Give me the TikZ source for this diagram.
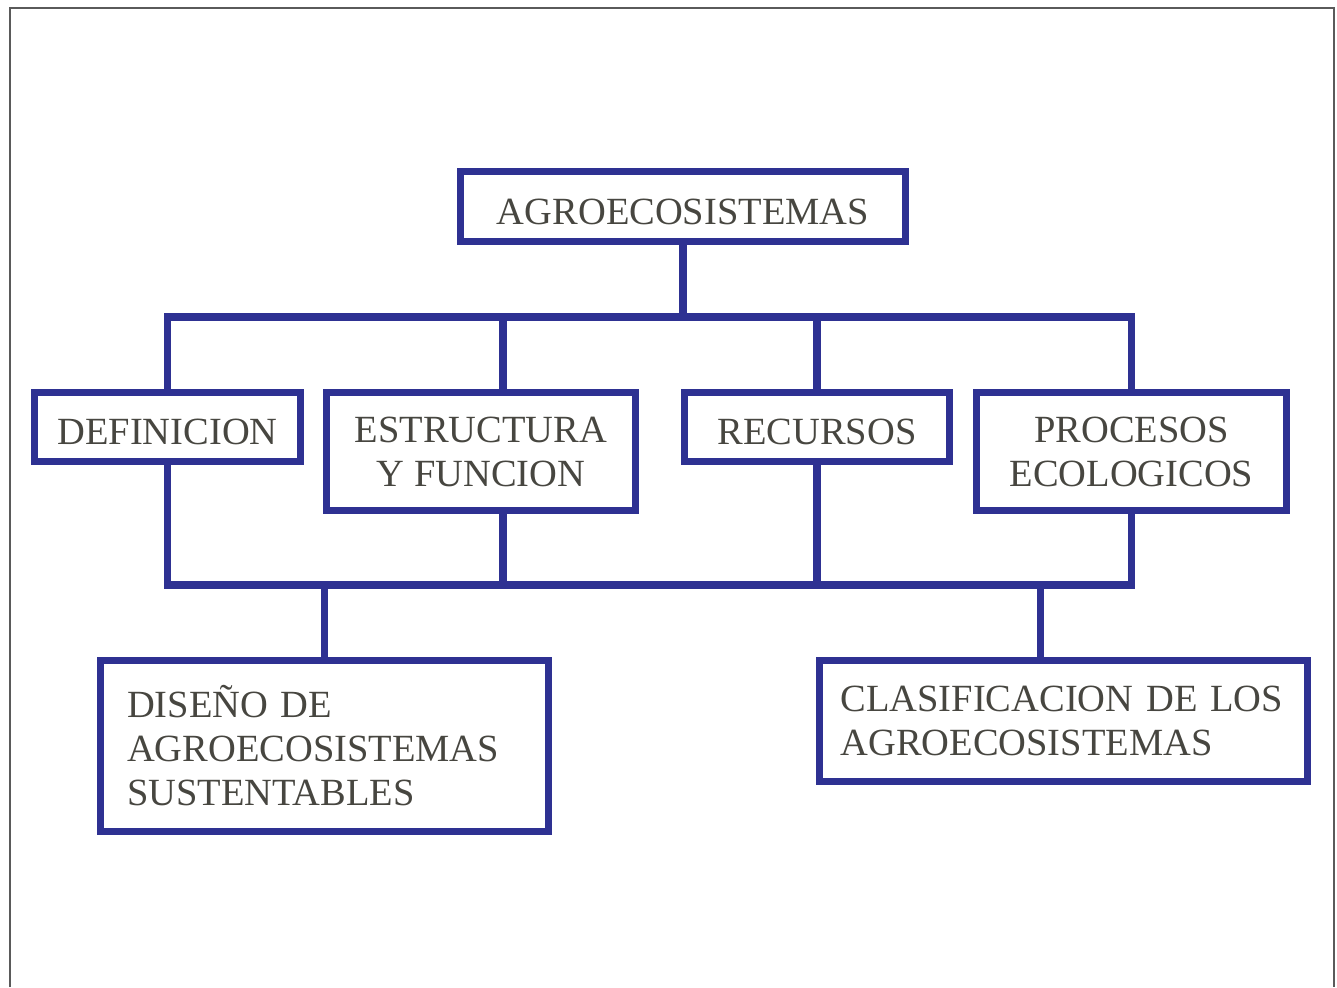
\documentclass[tikz,border=0pt]{standalone}
\usepackage{fontspec}
\setmainfont{Liberation Serif}
\usepackage{tikz}
\usetikzlibrary{positioning,calc}

\definecolor{boxblue}{RGB}{46,49,146}
\definecolor{labelgray}{RGB}{71,70,64}
\definecolor{framegray}{RGB}{90,90,90}

\begin{document}
\begin{tikzpicture}[
  box/.style={draw=boxblue, line width=4pt, rectangle, inner sep=0pt,
    text=labelgray, font=\fontsize{21.9}{25}\selectfont, align=center},
  oneline/.style={text height=0.72cm, text depth=0pt},
  link/.style={draw=boxblue, line width=4pt},
]
  \useasboundingbox (0,0) rectangle (26.74,19.74);

  % page frame
  \draw[framegray, line width=0.8pt] (0.2,0) -- (0.2,19.58) -- (26.68,19.58) -- (26.68,0);

  % top
  \node[box, oneline, minimum width=8.9cm, minimum height=1.4cm] (agro) at (13.66,15.61) {AGROECOSISTEMAS};

  % middle row
  \node[box, oneline, minimum width=5.32cm, minimum height=1.38cm] (def) at (3.35,11.2) {DEFINICION};
  \node[box, minimum width=6.18cm, minimum height=2.36cm] (est) at (9.62,10.71) {ESTRUCTURA\\Y FUNCION};
  \node[box, oneline, minimum width=5.3cm, minimum height=1.38cm] (rec) at (16.34,11.2) {RECURSOS};
  \node[box, minimum width=6.2cm, minimum height=2.36cm] (proc) at (22.63,10.71) {PROCESOS\\ECOLOGICOS};

  % bottom row
  \node[box, align=left, text width=7.9cm, inner xsep=0.53cm, minimum height=3.42cm] (dis) at (6.49,4.82)
    {DISEÑO DE\\AGROECOSISTEMAS\\SUSTENTABLES};
  \node[box, align=left, text width=8.9cm, inner xsep=0.43cm, minimum height=2.42cm] (clas) at (21.26,5.32)
    {CLASIFICACION DE LOS\\AGROECOSISTEMAS};

  % bus lines
  \coordinate (busup) at (0,13.4);
  \coordinate (buslo) at (0,8.04);
  \coordinate (estup) at ([xshift=0.44cm]est.north);
  \coordinate (estlo) at ([xshift=0.44cm]est.south);
  \coordinate (clasup) at ([xshift=-0.46cm]clas.north);

  % upper tree
  \draw[link] (agro.south) -- (agro.south |- busup);
  \draw[link] (def.north) |- (proc.north |- busup) -- (proc.north);
  \draw[link] (estup) -- (estup |- busup);
  \draw[link] (rec.north) -- (rec.north |- busup);

  % lower tree
  \draw[link] (def.south) |- (proc.south |- buslo) -- (proc.south);
  \draw[link] (estlo) -- (estlo |- buslo);
  \draw[link] (rec.south) -- (rec.south |- buslo);
  \draw[link] (dis.north |- buslo) -- (dis.north);
  \draw[link] (clasup |- buslo) -- (clasup);
\end{tikzpicture}
\end{document}
